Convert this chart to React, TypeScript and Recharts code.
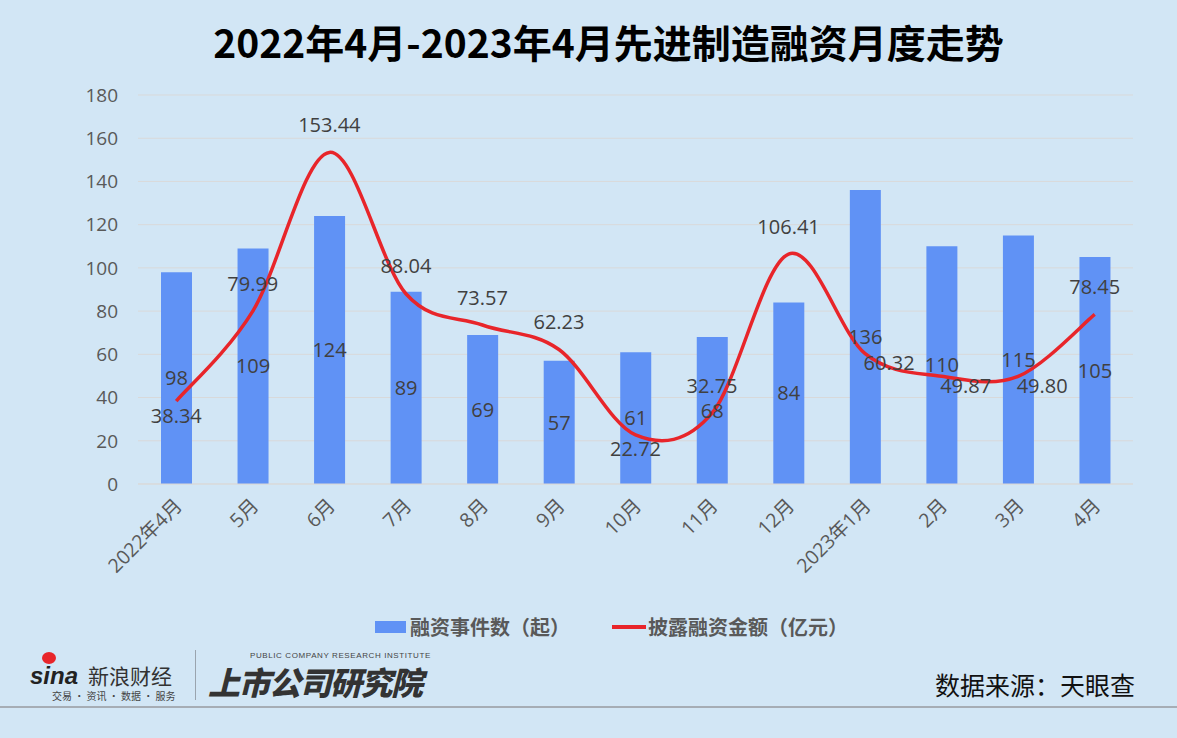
import React from 'react';
import { ComposedChart, Bar, Line, XAxis, YAxis, CartesianGrid, LabelList } from 'recharts';

const months = ['2022年4月', '5月', '6月', '7月', '8月', '9月', '10月', '11月', '12月', '2023年1月', '2月', '3月', '4月'];
const dealCounts = [98, 109, 124, 89, 69, 57, 61, 68, 84, 136, 110, 115, 105];
const amounts = [38.34, 79.99, 153.44, 88.04, 73.57, 62.23, 22.72, 32.75, 106.41, 60.32, 49.87, 49.8, 78.45];
const yTicks = [0, 20, 40, 60, 80, 100, 120, 140, 160, 180];
// where Excel put each amount label relative to its point
const amountLabelSide = ['below', 'above', 'above', 'above', 'above', 'above', 'below', 'above', 'above', 'right', 'right', 'right', 'above'];

const data = months.map((m, i) => ({ month: m, count: dealCounts[i], amount: amounts[i] }));

const FONT = '"Noto Sans CJK SC", "Noto Sans", sans-serif';
const NUM_FONT = '"Open Sans", "Noto Sans CJK SC", sans-serif';

// Excel-like smoothed line (Catmull-Rom converted to bezier)
const smoothCurve = (context: any) => {
  let pts: number[][] = [];
  return {
    areaStart() {},
    areaEnd() {},
    lineStart() {
      pts = [];
    },
    point(x: number, y: number) {
      pts.push([+x, +y]);
    },
    lineEnd() {
      if (!pts.length) return;
      context.moveTo(pts[0][0], pts[0][1]);
      for (let i = 0; i < pts.length - 1; i++) {
        const p0 = pts[i - 1] || pts[i];
        const p1 = pts[i];
        const p2 = pts[i + 1];
        const p3 = pts[i + 2] || p2;
        context.bezierCurveTo(
          p1[0] + (p2[0] - p0[0]) / 6,
          p1[1] + (p2[1] - p0[1]) / 6,
          p2[0] - (p3[0] - p1[0]) / 6,
          p2[1] - (p3[1] - p1[1]) / 6,
          p2[0],
          p2[1]
        );
      }
    },
  };
};

const AmountLabel = (props: any) => {
  const { x, y, value, index } = props;
  const side = amountLabelSide[index];
  let dx = 0;
  let dy = -28;
  if (side === 'below') dy = 14;
  if (side === 'right') {
    dx = 24;
    dy = 9;
  }
  return (
    <text
      x={x + dx}
      y={y + dy}
      textAnchor="middle"
      dominantBaseline="central"
      fill="#404040"
      fontSize={20}
      fontFamily={NUM_FONT}
    >
      {Number(value).toFixed(2)}
    </text>
  );
};

const RotatedTick = (props: any) => {
  const { x, y, payload } = props;
  return (
    <text
      x={x + 7}
      y={y + 15}
      transform={`rotate(-45 ${x + 7} ${y + 15})`}
      textAnchor="end"
      fill="#595959"
      fontSize={19.5}
      fontFamily={NUM_FONT}
    >
      {payload.value}
    </text>
  );
};

export default function App() {
  return (
    <div
      style={{
        position: 'relative',
        width: 1177,
        height: 738,
        background: '#d2e6f5',
        fontFamily: FONT,
        overflow: 'hidden',
      }}
    >
      <style>{`body{margin:0}`}</style>
      <div
        style={{
          position: 'absolute',
          top: 13,
          left: 20,
          width: 1177,
          textAlign: 'center',
          fontSize: 39,
          fontWeight: 700,
          color: '#000',
        }}
      >
        2022年4月-2023年4月先进制造融资月度走势
      </div>

      <div style={{ position: 'absolute', top: 0, left: 0 }}>
        <ComposedChart width={1177} height={600} data={data} margin={{ top: 95, right: 44, left: 0, bottom: 0 }}>
          <CartesianGrid vertical={false} stroke="#d9d9d9" />
          <XAxis
            dataKey="month"
            tickLine={false}
            axisLine={{ stroke: '#d9d9d9' }}
            interval={0}
            height={116}
            tick={<RotatedTick />}
          />
          <YAxis
            domain={[0, 180]}
            ticks={yTicks}
            width={138}
            tickLine={false}
            axisLine={false}
            tickMargin={14}
            tick={{ fontSize: 19, fill: '#595959', fontFamily: NUM_FONT }}
          />
          <Bar dataKey="count" fill="#6092f5" barSize={31} isAnimationActive={false}>
            <LabelList dataKey="count" position="center" fill="#404040" fontSize={20} fontFamily={NUM_FONT} />
          </Bar>
          <Line
            dataKey="amount"
            type={smoothCurve as any}
            stroke="#e8252a"
            strokeWidth={3.5}
            dot={false}
            activeDot={false}
            isAnimationActive={false}
          >
            <LabelList dataKey="amount" content={<AmountLabel />} />
          </Line>
        </ComposedChart>
      </div>

      {/* Legend */}
      <div style={{ position: 'absolute', top: 612, left: 375, display: 'flex', alignItems: 'center', fontSize: 20, fontWeight: 700, color: '#595959' }}>
        <div style={{ width: 31, height: 12, background: '#6092f5', marginRight: 4 }} />
        <span>融资事件数（起）</span>
        <div style={{ width: 34, height: 4, background: '#e8252a', marginLeft: 42, marginRight: 2 }} />
        <span>披露融资金额（亿元）</span>
      </div>

      {/* Footer logos */}
      <div style={{ position: 'absolute', top: 652, left: 30, width: 160, height: 50 }}>
        <span style={{ position: 'absolute', top: 12, left: 0, fontSize: 24, lineHeight: '24px', fontWeight: 900, fontStyle: 'italic', color: '#222', fontFamily: 'Arial, "Liberation Sans", sans-serif' }}>
          sina
        </span>
        <span style={{ position: 'absolute', top: 0, left: 12, width: 14, height: 12, borderRadius: '50%', background: '#e8252a' }} />
        <span style={{ position: 'absolute', top: 12, left: 58, fontSize: 21, lineHeight: '22px', color: '#333', whiteSpace: 'nowrap' }}>新浪财经</span>
        <span style={{ position: 'absolute', top: 38, left: 22, fontSize: 10, lineHeight: '11px', color: '#444', whiteSpace: 'nowrap' }}>交易 · 资讯 · 数据 · 服务</span>
      </div>
      <div style={{ position: 'absolute', top: 650, left: 195, width: 1, height: 50, background: '#9aa4ae' }} />
      <div style={{ position: 'absolute', top: 651, left: 250, fontSize: 8, lineHeight: '9px', color: '#444', fontFamily: 'Arial, sans-serif', whiteSpace: 'nowrap', letterSpacing: 0.6 }}>
        PUBLIC COMPANY RESEARCH INSTITUTE
      </div>
      <div
        style={{
          position: 'absolute',
          top: 664,
          left: 208,
          fontSize: 32,
          lineHeight: '34px',
          fontWeight: 900,
          fontStyle: 'italic',
          color: '#333',
          whiteSpace: 'nowrap',
          letterSpacing: -1.5,
        }}
      >
        上市公司研究院
      </div>
      <div style={{ position: 'absolute', top: 666, left: 935, fontSize: 25, color: '#111', whiteSpace: 'nowrap' }}>
        数据来源：天眼查
      </div>
      <div style={{ position: 'absolute', top: 706, left: 0, width: 1177, height: 2, background: '#a6adb5' }} />
    </div>
  );
}
